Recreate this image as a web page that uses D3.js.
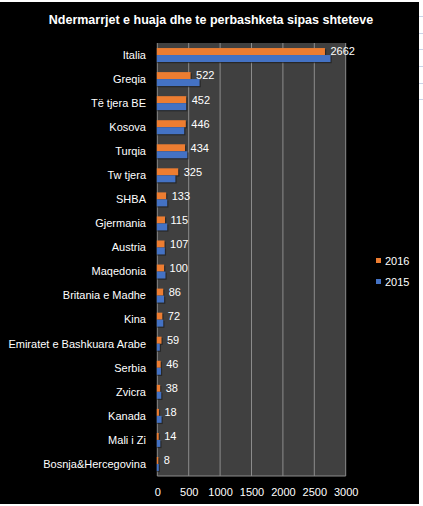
<!DOCTYPE html>
<html>
<head>
<meta charset="utf-8">
<script src="https://cdn.jsdelivr.net/npm/d3@7"></script>
<style>
	html, body { margin: 0; padding: 0; background: #fff; }
	svg { display: block; }
	text { font-family: "Liberation Sans", Arial, sans-serif; fill: #fff; }
</style>
</head>
<body>
<div id="chart"></div>
<script>

// chart data
const title = "Ndermarrjet e huaja dhe te perbashketa sipas shteteve";
const countries = [ "Italia", "Greqia", "Të tjera BE", "Kosova", "Turqia", "Tw tjera", "SHBA",
	"Gjermania", "Austria", "Maqedonia", "Britania e Madhe", "Kina", "Emiratet e Bashkuara Arabe",
	"Serbia", "Zvicra", "Kanada", "Mali i Zi", "Bosnja&Hercegovina" ];
const values2016 = [ 2662, 522, 452, 446, 434, 325, 133, 115, 107, 100, 86, 72, 59, 46, 38, 18, 14, 8 ];
const values2015 = [ 2750, 665, 452, 420, 470, 280, 150, 150, 112, 122, 100, 87, 32, 50, 55, 60, 40, 15 ];
const seriesNames = [ "2016", "2015" ];
const xTicks = [ 0, 500, 1000, 1500, 2000, 2500, 3000 ];

///////////////////////////////////////////////////////////////////////

const width = 423, height = 506;
const colors = { "2016": "#ED7D31", "2015": "#4472C4" };

const svg = d3.select( "#chart" )
	.append( "svg" )
		.attr( "width", width )
		.attr( "height", height );

// excel sheet behind the chart
svg.append( "rect" )
	.attr( "width", width ).attr( "height", height )
	.attr( "fill", "#fff" );
svg.append( "g" )
	.selectAll( "line" )
	.data( [ 16, 33, 49, 66, 83, 99 ] )
	.join( "line" )
		.attr( "x1", 419 ).attr( "x2", width )
		.attr( "y1", d => d + 0.5 ).attr( "y2", d => d + 0.5 )
		.attr( "stroke", "#c9d3e8" );

svg.append( "rect" )
	.attr( "x", 0 ).attr( "y", 2 )
	.attr( "width", 419 ).attr( "height", 502 )
	.attr( "fill", "#000" );

svg.append( "text" )
	.attr( "x", 211 ).attr( "y", 20 )
	.attr( "dy", "0.35em" )
	.attr( "text-anchor", "middle" )
	.style( "font-weight", "bold" )
	.style( "font-size", "12.5px" )
	.text( title );

const plot = { left: 157.3, right: 345.7, top: 43, bottom: 476 };

const x = d3.scaleLinear()
	.domain( [ 0, 3000 ] )
	.range( [ plot.left, plot.right ] );

const y = d3.scaleBand()
	.domain( countries )
	.range( [ plot.top, plot.bottom ] )
	.paddingInner( 0.42 )
	.paddingOuter( 0.21 );

const ySub = d3.scaleBand()
	.domain( seriesNames )
	.range( [ 0, y.bandwidth() ] );

svg.append( "rect" )
	.attr( "x", plot.left ).attr( "y", plot.top )
	.attr( "width", plot.right - plot.left )
	.attr( "height", plot.bottom - plot.top )
	.attr( "fill", "#404040" );

// vertical gridlines
svg.append( "g" )
	.selectAll( "line" )
	.data( xTicks )
	.join( "line" )
		.attr( "x1", d => x( d ) ).attr( "x2", d => x( d ) )
		.attr( "y1", plot.top ).attr( "y2", plot.bottom )
		.attr( "stroke", "#8c8c8c" )
		.attr( "stroke-width", 1 );

svg.append( "line" )
	.attr( "x1", plot.left ).attr( "x2", plot.right )
	.attr( "y1", plot.bottom ).attr( "y2", plot.bottom )
	.attr( "stroke", "#8c8c8c" );

const rows = countries.map( ( c, i ) => ( { c, "2016": values2016[ i ], "2015": values2015[ i ] } ) );

const groups = svg.append( "g" )
	.selectAll( "g" )
	.data( rows )
	.join( "g" )
		.attr( "transform", d => `translate(0,${ y( d.c ) })` );

const bars = d => seriesNames.map( s => ( { s, v: d[ s ] } ) );

// soft shadow under the bars
groups.selectAll( "rect.shadow" )
	.data( bars )
	.join( "rect" )
		.attr( "class", "shadow" )
		.attr( "x", x( 0 ) )
		.attr( "y", d => ySub( d.s ) + 1.2 )
		.attr( "width", d => x( d.v ) - x( 0 ) + 1.7 )
		.attr( "height", ySub.bandwidth() )
		.attr( "fill", "#1e1e1e" )
		.attr( "opacity", 0.7 );

groups.selectAll( "rect.bar" )
	.data( bars )
	.join( "rect" )
		.attr( "class", "bar" )
		.attr( "x", x( 0 ) - 0.5 )
		.attr( "y", d => ySub( d.s ) )
		.attr( "width", d => x( d.v ) - x( 0 ) + 1 )
		.attr( "height", ySub.bandwidth() )
		.attr( "fill", d => colors[ d.s ] );

// 2016 value labels
groups.append( "text" )
	.attr( "x", d => x( d[ "2016" ] ) + 6 )
	.attr( "y", ySub( "2016" ) + ySub.bandwidth() / 2 )
	.attr( "dy", "0.35em" )
	.style( "font-size", "11px" )
	.text( d => d[ "2016" ] );

// category labels
svg.append( "g" )
	.selectAll( "text" )
	.data( countries )
	.join( "text" )
		.attr( "x", 146 )
		.attr( "y", d => y( d ) + y.bandwidth() / 2 )
		.attr( "dy", "0.35em" )
		.attr( "text-anchor", "end" )
		.style( "font-size", "11px" )
		.text( d => d );

// x axis
const xAxis = svg.append( "g" )
	.attr( "transform", `translate(0,${ plot.bottom })` )
	.call( d3.axisBottom( x ).tickValues( xTicks ).tickFormat( d3.format( "d" ) ).tickSize( 0 ).tickPadding( 12 ) );
xAxis.select( ".domain" ).remove();
xAxis.selectAll( "text" )
	.attr( "fill", "#fff" )
	.style( "font-family", "\"Liberation Sans\", Arial, sans-serif" )
	.style( "font-size", "11px" );

// legend
const legend = svg.append( "g" )
	.selectAll( "g" )
	.data( seriesNames )
	.join( "g" )
		.attr( "transform", ( d, i ) => `translate(376,${ 258 + i * 21 })` );
legend.append( "rect" )
	.attr( "width", 5 ).attr( "height", 5 )
	.attr( "fill", d => colors[ d ] );
legend.append( "text" )
	.attr( "x", 9 ).attr( "y", 3 )
	.attr( "dy", "0.35em" )
	.style( "font-size", "11px" )
	.text( d => d );

</script>
</body>
</html>
